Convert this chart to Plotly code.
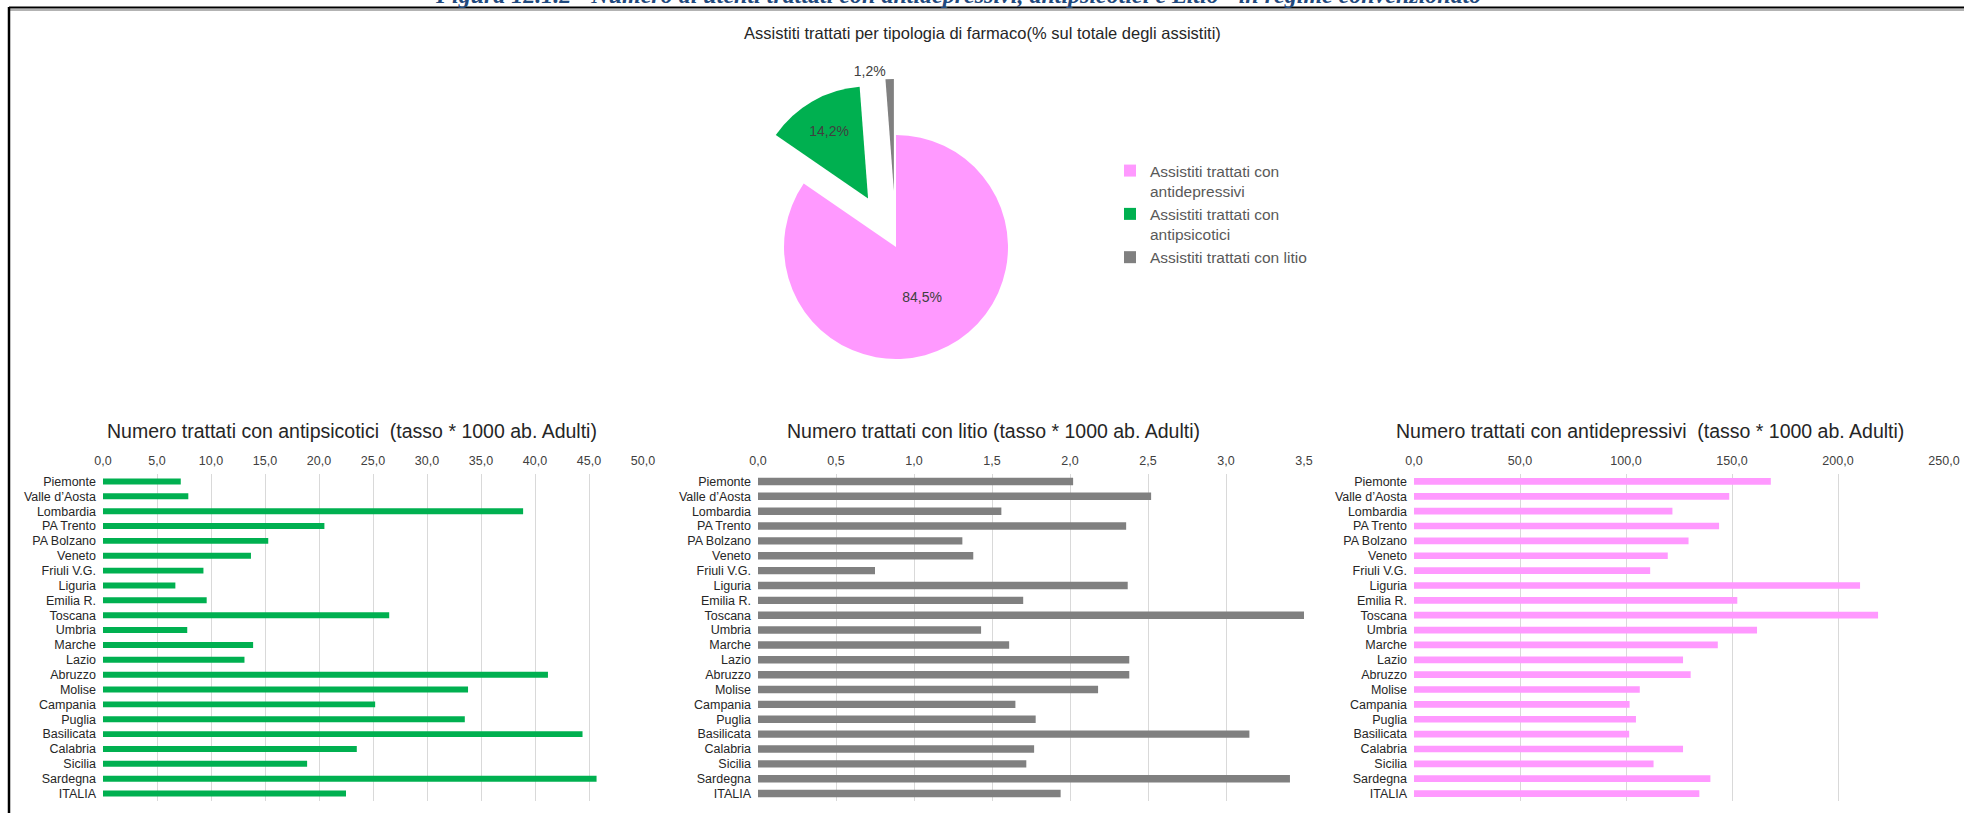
import plotly.graph_objects as go

W, H = 1964, 813

# ---------------- data ----------------
regioni = ["Piemonte", "Valle d’Aosta", "Lombardia", "PA Trento", "PA Bolzano", "Veneto",
           "Friuli V.G.", "Liguria", "Emilia R.", "Toscana", "Umbria", "Marche", "Lazio",
           "Abruzzo", "Molise", "Campania", "Puglia", "Basilicata", "Calabria", "Sicilia",
           "Sardegna", "ITALIA"]

antipsicotici = [7.2, 7.9, 38.9, 20.5, 15.3, 13.7, 9.3, 6.7, 9.6, 26.5, 7.8, 13.9, 13.1,
                 41.2, 33.8, 25.2, 33.5, 44.4, 23.5, 18.9, 45.7, 22.5]

litio = [2.02, 2.52, 1.56, 2.36, 1.31, 1.38, 0.75, 2.37, 1.70, 3.50, 1.43, 1.61, 2.38,
         2.38, 2.18, 1.65, 1.78, 3.15, 1.77, 1.72, 3.41, 1.94]

antidepressivi = [168.3, 148.7, 121.9, 143.9, 129.5, 119.7, 111.4, 210.4, 152.5, 218.9,
                  161.8, 143.3, 126.9, 130.5, 106.5, 101.7, 104.7, 101.5, 126.9, 113.0,
                  139.8, 134.6]

pie_labels = ["Assistiti trattati con<br>antidepressivi",
              "Assistiti trattati con<br>antipsicotici",
              "Assistiti trattati con litio"]
pie_values = [84.5, 14.2, 1.2]

titolo_figura = ("Figura 12.1.2 - Numero di utenti trattati con antidepressivi, "
                 "antipsicotici e Litio - in regime convenzionato")
titolo_torta = "Assistiti trattati per tipologia di farmaco(% sul totale degli assistiti)"
titoli_barre = ["Numero trattati con antipsicotici  (tasso * 1000 ab. Adulti)",
                "Numero trattati con litio (tasso * 1000 ab. Adulti)",
                "Numero trattati con antidepressivi  (tasso * 1000 ab. Adulti)"]

# ---------------- styles ----------------
PINK, GREEN, GRAY = "#FF99FF", "#00B050", "#808080"
FONT = "Liberation Sans, Arial, sans-serif"


def px_x(p):
    return p / W


def px_y(p):
    return 1 - p / H


fig = go.Figure()

# pie
cx, cy, r, pull = 896, 247, 112, 0.5
half = r * (1 + pull)
fig.add_trace(go.Pie(
    labels=pie_labels, values=pie_values, sort=False, direction="clockwise", rotation=0,
    pull=[0, pull, pull],
    marker=dict(colors=[PINK, GREEN, GRAY], line=dict(width=0)),
    texttemplate="%{value:.1f}%",
    textposition=["inside", "inside", "outside"],
    insidetextorientation="horizontal",
    textfont=dict(size=14, color="#404040", family=FONT),
    insidetextfont=dict(size=14, color="#404040", family=FONT),
    outsidetextfont=dict(size=14, color="#404040", family=FONT),
    domain=dict(x=[px_x(cx - half), px_x(cx + half)], y=[px_y(cy + half), px_y(cy - half)]),
    hoverinfo="label+value",
))

# bars
series = [(antipsicotici, GREEN, 0.40, "x", "y"),
          (litio, GRAY, 0.50, "x2", "y2"),
          (antidepressivi, PINK, 0.45, "x3", "y3")]
for vals, col, wd, xa, ya in series:
    fig.add_trace(go.Bar(y=regioni, x=vals, orientation="h", marker=dict(color=col, line=dict(width=0)),
                         width=wd, xaxis=xa, yaxis=ya, showlegend=False,
                         hovertemplate="%{y}: %{x:.1f}<extra></extra>"))

ydom = [px_y(801), px_y(474)]
xcommon = dict(side="top", tickformat=".1f", showgrid=True, gridcolor="#d9d9d9", gridwidth=1,
               zeroline=False, showline=False, ticks="", ticklabelstandoff=6,
               tickfont=dict(size=12.5, color="#404040", family=FONT), fixedrange=True)
ycommon = dict(domain=ydom, autorange="reversed", showgrid=False, zeroline=False, showline=False,
               ticks="", ticklabelstandoff=6, tickmode="linear", tick0=0, dtick=1,
               tickfont=dict(size=12.5, color="#262626", family=FONT),
               fixedrange=True)

fig.update_layout(
    xaxis=dict(domain=[px_x(103), px_x(643)], range=[0, 50], dtick=5, anchor="y", **xcommon),
    yaxis=dict(anchor="x", **ycommon),
    xaxis2=dict(domain=[px_x(758), px_x(1304)], range=[0, 3.5], dtick=0.5, anchor="y2", **xcommon),
    yaxis2=dict(anchor="x2", **ycommon),
    xaxis3=dict(domain=[px_x(1414), px_x(1944)], range=[0, 250], dtick=50, anchor="y3", **xcommon),
    yaxis3=dict(anchor="x3", **ycommon),
)

annotations = []
for t, xc in zip(titoli_barre, [352, 993, 1650]):
    annotations.append(dict(text=t, x=px_x(xc), y=px_y(431), xref="paper", yref="paper",
                            showarrow=False, xanchor="center", yanchor="middle",
                            font=dict(size=19.5, color="#262626", family=FONT)))
annotations.append(dict(text=titolo_torta, x=px_x(982), y=px_y(33), xref="paper", yref="paper",
                        showarrow=False, xanchor="center", yanchor="middle",
                        font=dict(size=16.5, color="#262626", family=FONT)))
annotations.append(dict(text="<b><i>" + titolo_figura + "</i></b>", x=px_x(958), y=px_y(10),
                        xref="paper", yref="paper", showarrow=False, xanchor="center",
                        yanchor="bottom",
                        font=dict(size=24, color="#1F497D", family="Liberation Serif, serif")))

shapes = [
    dict(type="line", xref="paper", yref="paper", x0=px_x(9), x1=1, y0=px_y(7.5), y1=px_y(7.5),
         line=dict(color="#000000", width=2)),
    dict(type="line", xref="paper", yref="paper", x0=px_x(9), x1=1, y0=px_y(10), y1=px_y(10),
         line=dict(color="#9a9a9a", width=1.5)),
    dict(type="line", xref="paper", yref="paper", x0=px_x(9), x1=px_x(9), y0=px_y(7), y1=0,
         line=dict(color="#000000", width=2.5)),
]

fig.update_layout(
    width=W, height=H, margin=dict(l=0, r=0, t=0, b=0, pad=0, autoexpand=False),
    paper_bgcolor="white", plot_bgcolor="white", separators=",.",
    font=dict(family=FONT, color="#404040"),
    annotations=annotations, shapes=shapes,
    legend=dict(x=px_x(1110), y=px_y(154), xanchor="left", yanchor="top", valign="top",
                font=dict(size=15.5, color="#595959", family=FONT), bgcolor="rgba(0,0,0,0)",
                traceorder="normal"),
    bargap=0.5,
)

fig.write_html("out.html", config={"displayModeBar": False},
               post_script="document.body.style.margin='0';document.body.style.overflow='hidden';")
